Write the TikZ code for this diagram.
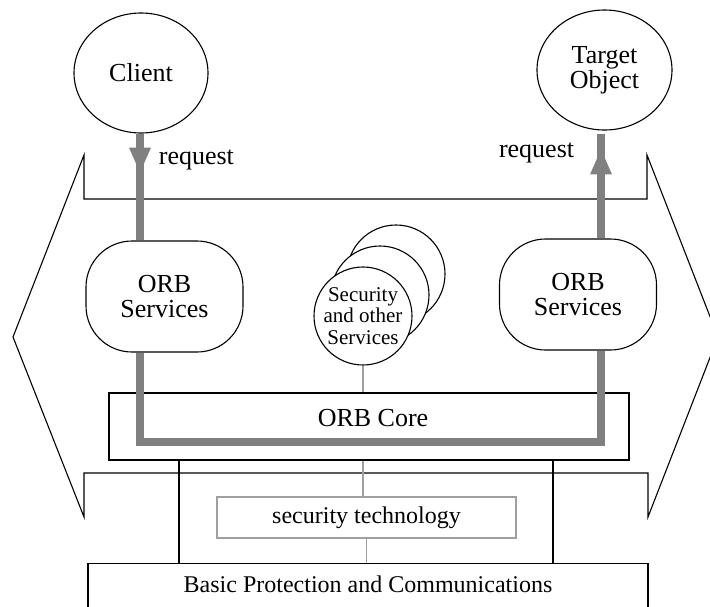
\documentclass[tikz,border=0pt]{standalone}
\usepackage{fontspec}
\setmainfont{Liberation Serif}
\usetikzlibrary{shapes.geometric,arrows.meta,decorations.markings}
\definecolor{flowgray}{HTML}{808080}
\definecolor{linkgray}{HTML}{A0A0A0}
\begin{document}
\begin{tikzpicture}[x=1pt,y=-1pt,line width=1.1pt,
  big/.style={font=\fontsize{26}{25}\selectfont},
  mid/.style={font=\fontsize{24}{24}\selectfont},
  small/.style={font=\fontsize{21}{21.5}\selectfont},
  ell/.style={draw, ellipse, inner sep=0pt, big, align=center},
  orbbox/.style={draw, rounded corners=46pt, minimum width=157pt, minimum height=111pt, inner sep=0pt, big, align=center},
  svc/.style={draw, circle, fill=white, minimum size=98pt, inner sep=0pt},
  flow/.style={draw=flowgray, line width=8pt},
  link/.style={draw=linkgray, line width=1.2pt},
  midtip/.style={postaction={decorate}, decoration={markings,
     mark=at position #1 with {\arrow{Triangle[length=25pt,width=22pt,line width=0pt]}}}}
]
\useasboundingbox (0,0) rectangle (710,606);
% outer outline
\draw (84,199) -- (84,155) -- (13,337) -- (84,517) -- (84,473) -- (648,473)
      -- (648,517) -- (718,337) -- (647,155) -- (647,199) -- cycle;
% helper coordinates
\coordinate (xsl) at (140,0);
\coordinate (xsr) at (601,0);
\coordinate (ybot) at (0,442);
\coordinate (xl) at (179,0);
\coordinate (xr) at (553,0);
% nodes
\node[ell, minimum width=134pt, minimum height=120pt] (client) at (141,73) {Client};
\node[ell, minimum width=135pt, minimum height=120pt] (target) at (604.5,70) {Target\\Object};
\node[orbbox] (orbL) at (164.5,296.5) {ORB\\Services};
\node[orbbox] (orbR) at (578,294.5) {ORB\\Services};
\node[draw, minimum width=520pt, minimum height=67pt, big, text height=18pt, text depth=18pt] (core) at (369,426.5) {\hspace*{8pt}ORB Core};
\node[draw=linkgray, minimum width=299pt, minimum height=41pt, mid] (sectech) at (366.5,517.5) {security technology};
\node[draw, minimum width=560pt, minimum height=50pt, anchor=north, mid, text height=17pt, text depth=10pt] (basic) at (368,563) {Basic Protection and Communications};
\node[svc] (sec3) at (396,274) {};
\node[svc] (sec2) at (380,295) {};
\node[svc, small, align=center] (sec1) at (363,316) {Security\\and other\\Services};
% labels
\node[big, anchor=west] (reqL) at (155,160) {request};
\node[big, anchor=east] (reqR) at (578,153) {request};
% request flow
\draw[flow, midtip=39pt] (client.south -| xsl) -- (orbL.north -| xsl);
\draw[flow, midtip=89pt, shorten >=3pt] (orbR.north -| xsr) -- (target.south -| xsr);
\draw[flow] (orbL.south -| xsl) -- (ybot -| xsl) -- (ybot -| xsr) -- (orbR.south -| xsr);
% gray links
\draw[link] (sec1.south) -- (sec1.south |- core.north);
\draw[link] (core.south -| sec1.south) -- (sectech.north -| sec1.south);
\draw[link] (sectech.south) -- (basic.north -| sectech.south);
% black verticals
\draw (core.south -| xl) -- (basic.north -| xl);
\draw (core.south -| xr) -- (basic.north -| xr);
\end{tikzpicture}
\end{document}
